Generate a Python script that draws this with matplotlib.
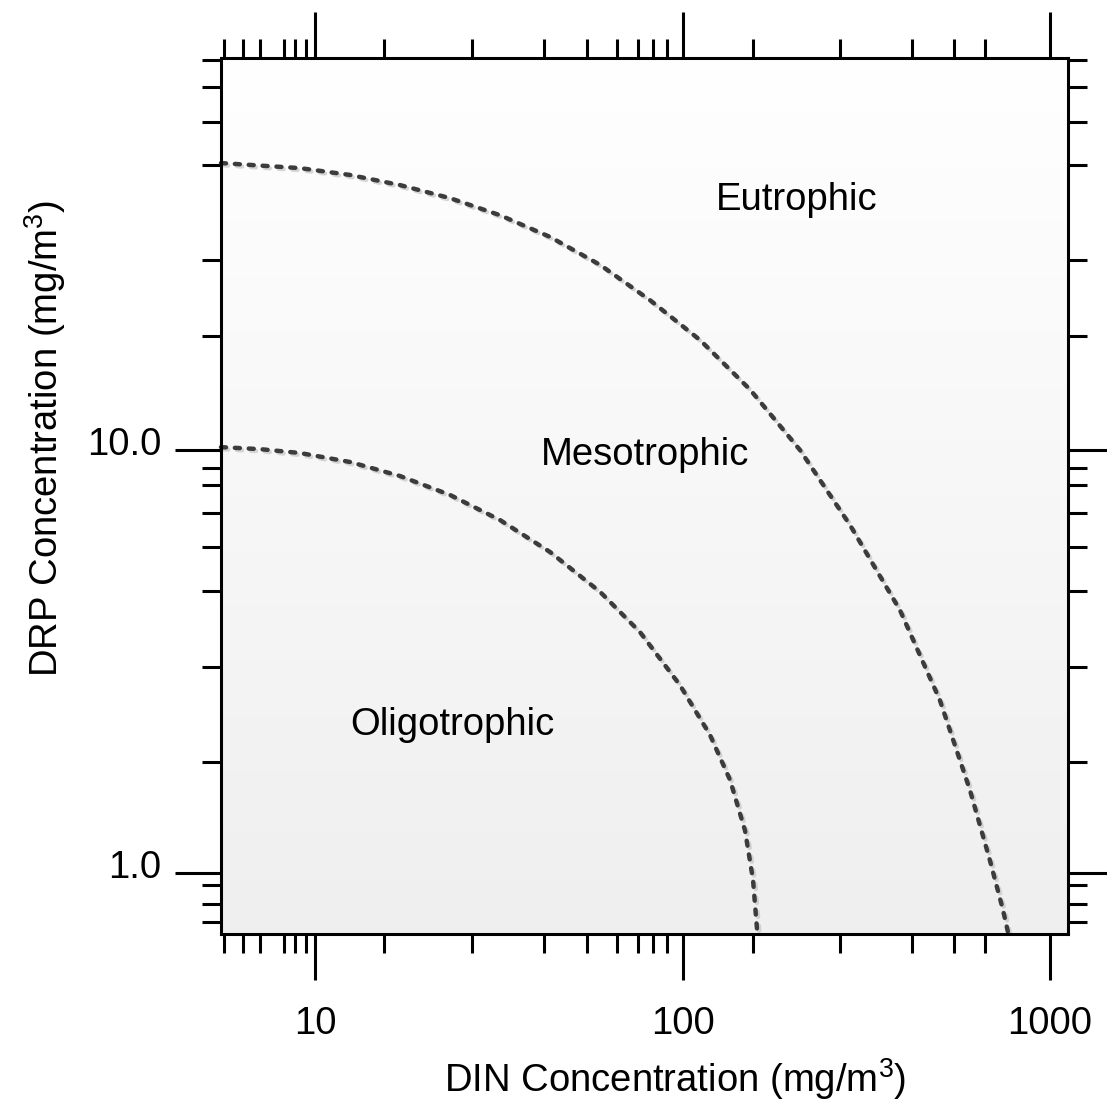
import numpy as np
import matplotlib
matplotlib.use('Agg')
import matplotlib.pyplot as plt
import matplotlib.patheffects as pe
from matplotlib.colors import LinearSegmentedColormap
from matplotlib.transforms import ScaledTranslation

plt.rcParams['font.family'] = ['Liberation Sans', 'DejaVu Sans']
plt.rcParams['mathtext.fontset'] = 'custom'
plt.rcParams['mathtext.rm'] = 'Liberation Sans'
plt.rcParams['mathtext.it'] = 'Liberation Sans'
plt.rcParams['lines.scale_dashes'] = False

# boundary curves (DIN, DRP in mg/m3)
din_inner = [5.53, 7.07, 9.08, 12.43, 17.01, 23.27, 31.84, 43.57, 59.63, 76.6,
             98.4, 118.8, 134.7, 148.0, 155.6, 159.6]
drp_inner = [10.16, 10.05, 9.84, 9.37, 8.68, 7.83, 6.83, 5.74, 4.62, 3.71,
             2.78, 2.12, 1.66, 1.26, 0.963, 0.733]
din_outer = [5.53, 9.08, 12.43, 17.01, 23.27, 31.84, 43.57, 59.63, 81.6, 111.6,
             152.7, 208.9, 285.8, 391.2, 502.5, 606.6, 687.8, 746.3, 769.9]
drp_outer = [47.7, 46.4, 44.7, 42.3, 39.4, 35.9, 31.9, 27.4, 22.6, 18.2,
             13.9, 10.0, 6.65, 4.18, 2.56, 1.57, 1.07, 0.818, 0.725]

regions = ['Oligotrophic', 'Mesotrophic', 'Eutrophic']
region_din = [23.6, 79.0, 205.0]
region_drp = [2.24, 9.73, 39.0]

x_major = [10, 100, 1000]
x_major_labels = ['10', '100', '1000']
x_minor = [5.64, 6.33, 7.07, 8.23, 8.80, 9.43, 15.4, 26.7, 42.0, 54.8, 66.2,
           75.5, 83.0, 90.6, 155.3, 268.6, 421.7, 549.8, 666.6]
y_major = [1, 10]
y_major_labels = ['1.0', '10.0']
y_minor = [0.766, 0.846, 0.935, 1.83, 3.07, 4.65, 5.89, 7.11, 8.26, 9.05,
           18.6, 28.2, 47.3, 59.7, 72.0, 83.6]

W, H = 1107, 1100
fig = plt.figure(figsize=(W / 100, H / 100), dpi=100)
rect = [221 / W, 1 - 934 / H, (1068 - 221) / W, (934 - 58) / H]

# gradient background
bg = fig.add_axes(rect, zorder=0)
cmap = LinearSegmentedColormap.from_list('bg', ['#efefef', '#ffffff'])
bg.imshow(np.linspace(0, 1, 256).reshape(-1, 1), cmap=cmap, aspect='auto',
          origin='lower', extent=[0, 1, 0, 1])
bg.axis('off')

ax = fig.add_axes(rect, zorder=1)
ax.set_facecolor('none')
ax.set_xscale('log')
ax.set_yscale('log')

shadow = [pe.SimpleLineShadow(offset=(1.6, -1.6), shadow_color='#bdbdbd', alpha=0.6),
          pe.Normal()]
for xs, ys in [(din_inner, drp_inner), (din_outer, drp_outer)]:
    ax.plot(xs, ys, color='#3c3c3c', lw=3.2, dashes=(3.6, 6.4),
            dash_capstyle='round', path_effects=shadow, clip_on=False)

for name, x, y in zip(regions, region_din, region_drp):
    ax.text(x, y, name, fontsize=27.5, ha='center', va='center')

ax.set_xlim(5.53, 1122)
ax.set_ylim(0.7176, 84.5)

ax.set_xticks(x_major)
ax.set_xticklabels(x_major_labels)
ax.set_xticks(x_minor, minor=True)
ax.set_xticklabels([], minor=True)
ax.set_yticks(y_major)
ax.set_yticklabels(y_major_labels)
ax.set_yticks(y_minor, minor=True)
ax.set_yticklabels([], minor=True)

ax.tick_params(which='both', direction='out', top=True, right=True,
               width=2.2, color='black', labelsize=27.5)
ax.tick_params(which='major', length=33)
ax.tick_params(which='minor', length=13.7)
ax.tick_params(axis='x', which='major', pad=19)
ax.tick_params(axis='y', which='major', pad=10)
for s in ax.spines.values():
    s.set_linewidth(2.2)

# y tick labels sit a little above their ticks in the original
lift = ScaledTranslation(0, 9 / 100, fig.dpi_scale_trans)
for lbl in ax.get_yticklabels():
    lbl.set_transform(lbl.get_transform() + lift)

fig.text(675 / W, 1 - 1079 / H, 'DIN Concentration (mg/m$^3$)', fontsize=27.5,
         ha='center', va='center')
fig.text(45 / W, 1 - 438 / H, 'DRP Concentration (mg/m$^3$)', fontsize=27.5,
         ha='center', va='center', rotation=90)

fig.savefig('out.png', dpi=100)
